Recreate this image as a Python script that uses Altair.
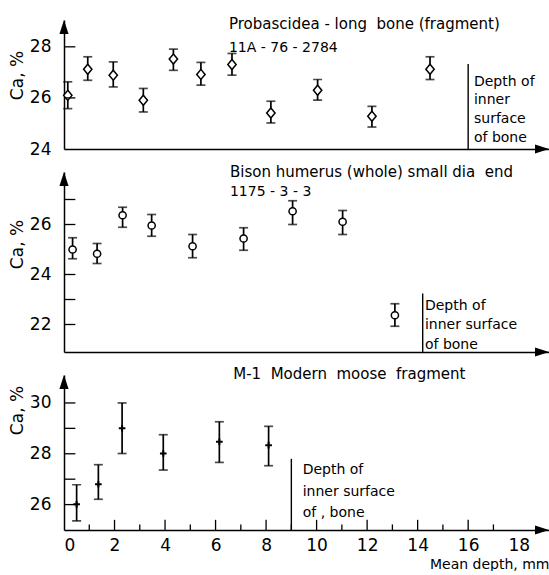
import altair as alt
import pandas as pd

FONT = "DejaVu Sans"
NB = "\u00a0"

# ---------------- data ----------------
# Panel 1: Probascidea long bone (fragment) 11A-76-2784
p1_depth = [0.15, 0.94, 1.95, 3.14, 4.33, 5.42, 6.65, 8.19, 10.04, 12.19, 14.49]
p1_ca = [26.10, 27.12, 26.89, 25.91, 27.52, 26.92, 27.31, 25.41, 26.30, 25.28, 27.12]
p1_hi = [26.63, 27.61, 27.41, 26.37, 27.91, 27.39, 27.74, 25.87, 26.72, 25.67, 27.61]
p1_lo = [25.58, 26.69, 26.43, 25.45, 27.08, 26.50, 26.89, 25.02, 25.91, 24.86, 26.72]

# Panel 2: Bison humerus (whole) small dia end 1175-3-3
p2_depth = [0.34, 1.31, 2.32, 3.47, 5.09, 7.11, 9.05, 11.03, 13.10]
p2_ca = [25.00, 24.83, 26.37, 25.96, 25.13, 25.44, 26.53, 26.11, 22.37]
p2_hi = [25.47, 25.24, 26.69, 26.40, 25.60, 25.87, 26.95, 26.56, 22.83]
p2_lo = [24.63, 24.44, 25.89, 25.53, 24.67, 24.97, 26.00, 25.60, 21.93]

# Panel 3: M-1 Modern moose fragment
p3_depth = [0.50, 1.36, 2.30, 3.93, 6.15, 8.10]
p3_ca = [26.01, 26.80, 29.00, 28.01, 28.47, 28.34]
p3_hi = [26.78, 27.57, 30.00, 28.75, 29.26, 29.08]
p3_lo = [25.36, 26.21, 28.01, 27.36, 27.66, 27.53]

# axes
x_domain = [0, 19.2]
x_labels = [0, 2, 4, 6, 8, 10, 12, 14, 16, 18]
x_major_ticks = [2, 4, 6, 8, 10, 12, 14, 16]
x_minor_ticks = [1, 3, 5, 7, 9, 11, 13, 15, 17]

p1_ydom = [24, 29.05]
p2_ydom = [20.9, 28.1]
p3_ydom = [25, 31.1]
p1_ylabels = [24, 26, 28]
p2_ylabels = [22, 24, 26]
p3_ylabels = [26, 28, 30]
p1_yticks = [26, 28]
p2_yticks = [22, 23, 24, 26, 27]
p3_yticks = [26, 27, 28, 29, 30]

# panel headings (title line, specimen number line)
p1_head = ["Probascidea - long" + NB + " bone (fragment)"]
p1_head_x = [6.53]
p1_head_y = [28.71]
p1_sub = ["11A - 76 - 2784"]
p1_sub_x = [6.53]
p1_sub_y = [27.80]

p2_head = ["Bison humerus (whole) small dia" + NB + " end"]
p2_head_x = [6.57]
p2_head_y = [27.90]
p2_sub = ["1175 - 3 - 3"]
p2_sub_x = [6.57]
p2_sub_y = [27.13]

p3_head = ["M-1" + NB + " Modern" + NB + " moose" + NB + " fragment"]
p3_head_x = [6.70]
p3_head_y = [30.96]
p3_sub = []
p3_sub_x = []
p3_sub_y = []

# "Depth of inner surface of bone" notes
p1_note = ["Depth of", "inner", "surface", "of bone"]
p1_note_x = [16.23, 16.23, 16.23, 16.23]
p1_note_y = [26.47, 25.75, 25.02, 24.29]
p1_depth_line = 16.0
p1_depth_line_top = 27.33

p2_note = ["Depth of", "inner surface", "of bone"]
p2_note_x = [14.29, 14.29, 14.29]
p2_note_y = [22.58, 21.81, 21.04]
p2_depth_line = 14.2
p2_depth_line_top = 23.24

p3_note = ["Depth of", "inner surface", "of , bone"]
p3_note_x = [9.45, 9.45, 9.45]
p3_note_y = [27.22, 26.34, 25.51]
p3_depth_line = 9.0
p3_depth_line_top = 27.8

W = 485

DIAMOND = "M0,-1.2L1,0L0,1.2L-1,0Z"
PLUS = "M-1,0L1,0M0,-1L0,1"
ARROW_UP = "M0,0L-0.65,2L0.65,2Z"
ARROW_RIGHT = "M0,0L-2,-0.65L-2,0.65Z"


def panel(depth, ca, hi, lo, marker, ydom, height, ylabels, yticks, title_y,
          head, hx, hy, sub, sx, sy, note, nx, ny, dline, dtop, bottom=False):
    xs = alt.Scale(domain=x_domain, nice=False, zero=False)
    ys = alt.Scale(domain=ydom, nice=False, zero=False)
    if bottom:
        xaxis = alt.Axis(values=x_labels, format="d", ticks=False, tickSize=0,
                         labelFontSize=17, labelPadding=7, labelFont=FONT,
                         labelColor="black", title="Mean depth, mm",
                         titleAnchor="end", titleFontSize=14,
                         titleFontWeight="normal", titleFont=FONT,
                         titleColor="black", titlePadding=4,
                         domainWidth=1.5, domainColor="black", grid=False)
    else:
        xaxis = alt.Axis(labels=False, ticks=False, tickSize=0, title=None,
                         domainWidth=1.5, domainColor="black", grid=False)
    yaxis = alt.Axis(values=ylabels, ticks=False, tickSize=0, labelFontSize=17,
                     labelPadding=13, labelFont=FONT, labelColor="black",
                     title="Ca, %", titleFontSize=17, titleFontWeight="normal",
                     titleFont=FONT, titleColor="black", titleX=-42,
                     titleY=title_y, titleBaseline="alphabetic",
                     domainWidth=1.5, domainColor="black", grid=False)

    def X(f="x"):
        return alt.X(f"{f}:Q", scale=xs, axis=xaxis)

    def Y(f="y"):
        return alt.Y(f"{f}:Q", scale=ys, axis=yaxis)

    df = pd.DataFrame({"x": depth, "y": ca, "hi": hi, "lo": lo})
    base = alt.Chart(df)

    bars = base.mark_rule(color="black", strokeWidth=1.7).encode(
        x=X(), y=Y("lo"), y2="hi")
    cap_hi = base.mark_tick(color="black", orient="horizontal", size=9,
                            thickness=1.7).encode(x=X(), y=Y("hi"))
    cap_lo = base.mark_tick(color="black", orient="horizontal", size=9,
                            thickness=1.7).encode(x=X(), y=Y("lo"))
    if marker == "diamond":
        pts = base.mark_point(shape=DIAMOND, size=70, filled=True, fill="white",
                              stroke="black", strokeWidth=1.5, opacity=1).encode(
            x=X(), y=Y())
    elif marker == "circle":
        pts = base.mark_point(shape="circle", size=52, filled=True, fill="white",
                              stroke="black", strokeWidth=1.5, opacity=1).encode(
            x=X(), y=Y())
    else:
        pts = base.mark_point(shape=PLUS, size=44, filled=False,
                              stroke="black", strokeWidth=2, opacity=1).encode(
            x=X(), y=Y())

    tick_df = pd.DataFrame({"y": yticks, "x": [0.0] * len(yticks),
                            "x2": [0.45] * len(yticks)})
    yt = alt.Chart(tick_df).mark_rule(color="black", strokeWidth=1.3).encode(
        x=X(), x2="x2", y=Y())

    up_df = pd.DataFrame({"x": [x_domain[0]], "y": [ydom[1]]})
    up = alt.Chart(up_df).mark_point(shape=ARROW_UP, size=196, filled=True,
                                     fill="black", strokeWidth=0,
                                     opacity=1).encode(x=X(), y=Y())
    rt_df = pd.DataFrame({"x": [x_domain[1]], "y": [ydom[0]]})
    rt = alt.Chart(rt_df).mark_point(shape=ARROW_RIGHT, size=196, filled=True,
                                     fill="black", strokeWidth=0,
                                     opacity=1).encode(x=X(), y=Y())

    dl_df = pd.DataFrame({"x": [dline], "y": [ydom[0]], "y2": [dtop]})
    dl = alt.Chart(dl_df).mark_rule(color="black", strokeWidth=1.4).encode(
        x=X(), y=Y(), y2="y2")

    def text_layer(t, tx, ty, fs):
        tdf = pd.DataFrame({"x": tx, "y": ty, "t": t})
        return alt.Chart(tdf).mark_text(align="left", baseline="alphabetic",
                                        font=FONT, fontSize=fs,
                                        color="black").encode(
            x=X(), y=Y(), text="t:N")

    layers = [bars, cap_hi, cap_lo, pts, yt, up, rt, dl,
              text_layer(head, hx, hy, 15), text_layer(note, nx, ny, 14)]
    if sub:
        layers.append(text_layer(sub, sx, sy, 14))

    if bottom:
        mj = pd.DataFrame({"x": x_major_ticks, "y": [ydom[0]] * len(x_major_ticks),
                           "y2": [ydom[0] + 0.4] * len(x_major_ticks)})
        mn = pd.DataFrame({"x": x_minor_ticks, "y": [ydom[0]] * len(x_minor_ticks),
                           "y2": [ydom[0] + 0.22] * len(x_minor_ticks)})
        layers.append(alt.Chart(mj).mark_rule(color="black", strokeWidth=1.3)
                      .encode(x=X(), y=Y(), y2="y2"))
        layers.append(alt.Chart(mn).mark_rule(color="black", strokeWidth=1.3)
                      .encode(x=X(), y=Y(), y2="y2"))

    return alt.layer(*layers).properties(width=W, height=height)


top = panel(p1_depth, p1_ca, p1_hi, p1_lo, "diamond", p1_ydom, 129,
            p1_ylabels, p1_yticks, 55, p1_head, p1_head_x, p1_head_y,
            p1_sub, p1_sub_x, p1_sub_y, p1_note, p1_note_x, p1_note_y,
            p1_depth_line, p1_depth_line_top)
mid = panel(p2_depth, p2_ca, p2_hi, p2_lo, "circle", p2_ydom, 180,
            p2_ylabels, p2_yticks, 72, p2_head, p2_head_x, p2_head_y,
            p2_sub, p2_sub_x, p2_sub_y, p2_note, p2_note_x, p2_note_y,
            p2_depth_line, p2_depth_line_top)
bot = panel(p3_depth, p3_ca, p3_hi, p3_lo, "plus", p3_ydom, 155,
            p3_ylabels, p3_yticks, 35, p3_head, p3_head_x, p3_head_y,
            p3_sub, p3_sub_x, p3_sub_y, p3_note, p3_note_x, p3_note_y,
            p3_depth_line, p3_depth_line_top, bottom=True)

chart = alt.vconcat(top, mid, bot, spacing=23, bounds="flush").properties(
    padding={"left": 7, "top": 16, "right": 0, "bottom": 0},
    background="white",
).configure_view(stroke=None).configure_axis(grid=False)

chart.save("out.html", embed_options={"renderer": "svg", "actions": False})
